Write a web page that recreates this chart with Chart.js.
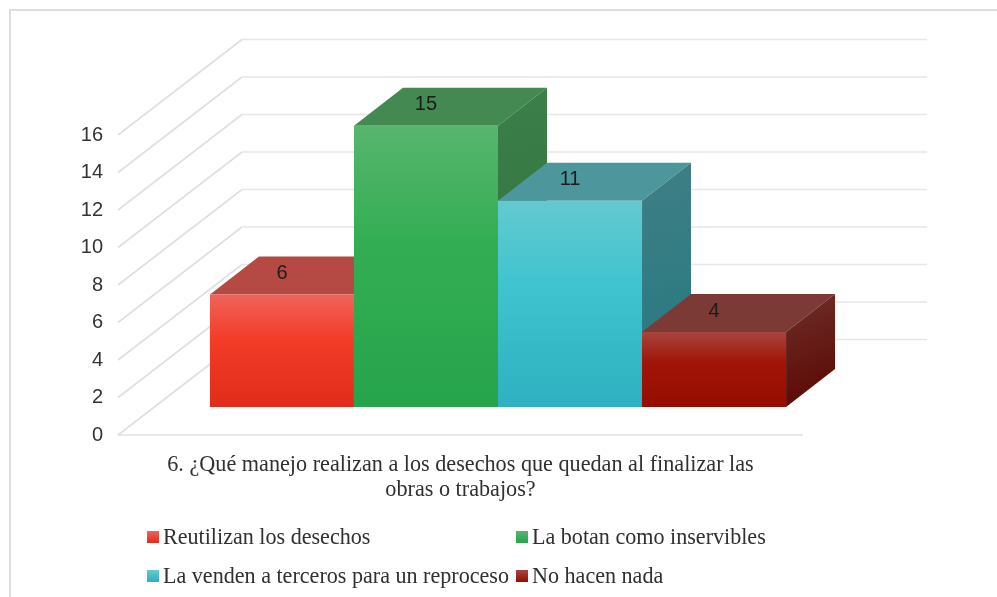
<!DOCTYPE html>
<html>
<head>
<meta charset="utf-8">
<script src="https://cdn.jsdelivr.net/npm/chart.js@4"></script>
<style>
  html, body { margin: 0; padding: 0; background: #fff; overflow: hidden; }
  #wrap { position: relative; width: 997px; height: 597px; filter: blur(.45px); }
  #frame { position: absolute; left: 9px; top: 9px; right: 0; bottom: 0; border-left: 2px solid #dedede; border-top: 2px solid #dedede; }
  canvas { position: absolute; left: 0; top: 0; }
  .leg { position: absolute; font: 22.1px "Liberation Serif", serif; color: #303030; white-space: nowrap; line-height: 22px; }
  .leg i { position: absolute; left: -16px; top: 5px; width: 12px; height: 12px; }
</style>
</head>
<body>
<div id="wrap">
  <div id="frame"></div>
  <canvas id="chart" width="997" height="597"></canvas>
  <div id="legend"></div>
</div>
<script>
// === data ===
const categories = [['6. ¿Qué manejo realizan a los desechos que quedan al finalizar las', 'obras o trabajos?']];
const seriesNames = ['Reutilizan los desechos', 'La botan como inservibles', 'La venden a terceros para un reproceso', 'No hacen nada'];
const seriesValues = [6, 15, 11, 4];

// === 3d look ===
const frontColors = [
  ['#f0635a', '#f23c28', '#e02c1a'],
  ['#58b56e', '#34ae54', '#26a44c'],
  ['#64c9d0', '#40c4cf', '#2eb0c0'],
  ['#a8443e', '#a01508', '#960d00']
];
const topColors = ['#b54a44', '#448852', '#4d969c', '#7c3a36'];
const sideColors = [['#8a2a22', '#7a1a12'], ['#3d7f4a', '#2a6f38'], ['#3f7f85', '#237880'], ['#6e2f2a', '#5a0500']];
const legendSpots = [[163, 526], [532, 526], [163, 565], [532, 565]];
const wallX = 124, wallY = -95.5;   // back wall offset
const shiftX = 37.5, shiftY = -28;  // bars stand part way into the floor
const depthX = 49, depthY = -38;    // bar depth

function poly(ctx, pts, fill) {
  ctx.beginPath();
  pts.forEach((p, i) => i ? ctx.lineTo(p[0], p[1]) : ctx.moveTo(p[0], p[1]));
  ctx.closePath();
  ctx.fillStyle = fill;
  ctx.fill();
}

const walls = {
  id: 'walls',
  beforeDatasetsDraw(chart) {
    const { ctx, scales: { y }, chartArea: a } = chart;
    ctx.save();
    ctx.lineWidth = 1.6;
    y.ticks.forEach(t => {
      const py = y.getPixelForValue(t.value);
      ctx.strokeStyle = '#dfdfdf';
      ctx.beginPath();
      ctx.moveTo(a.left, py);
      ctx.lineTo(a.left + wallX, py + wallY);
      ctx.stroke();
      ctx.strokeStyle = '#e6e6e6';
      ctx.beginPath();
      ctx.moveTo(a.left + wallX, py + wallY);
      ctx.lineTo(a.right + wallX, py + wallY);
      ctx.stroke();
    });
    const base = y.getPixelForValue(0);
    ctx.strokeStyle = '#e2e2e2';
    ctx.beginPath();
    ctx.moveTo(a.left, base);
    ctx.lineTo(a.right, base);
    ctx.stroke();

    // top and side faces, left to right so the later boxes cover the earlier ones
    ctx.translate(shiftX, shiftY);
    chart.data.datasets.forEach((ds, i) => {
      const b = chart.getDatasetMeta(i).data[0];
      const l = b.x - b.width / 2, r = b.x + b.width / 2;
      poly(ctx, [[l, b.y], [l + depthX, b.y + depthY], [r + depthX, b.y + depthY], [r, b.y]], topColors[i]);
      const g = ctx.createLinearGradient(r, b.y + depthY, r + depthX, b.base);
      g.addColorStop(0, sideColors[i][0]);
      g.addColorStop(1, sideColors[i][1]);
      poly(ctx, [[r, b.y], [r + depthX, b.y + depthY], [r + depthX, b.base + depthY], [r, b.base]], g);
    });
    ctx.restore();
    // the fronts are drawn by the library, moved onto the floor
    ctx.save();
    ctx.translate(shiftX, shiftY);
  },
  afterDatasetsDraw(chart) {
    const { ctx } = chart;
    ctx.restore();
    // value labels on the top faces
    ctx.save();
    ctx.font = '20px "Liberation Sans", sans-serif';
    ctx.fillStyle = '#1c1c1c';
    ctx.textAlign = 'center';
    ctx.textBaseline = 'middle';
    chart.data.datasets.forEach((ds, i) => {
      const b = chart.getDatasetMeta(i).data[0];
      ctx.fillText(ds.data[0], b.x + shiftX, b.y + shiftY - 21);
    });
    ctx.restore();
  }
};

function frontFill(i) {
  return (c) => {
    const { chart } = c;
    const y = chart.scales.y;
    if (!y || !chart.chartArea) return frontColors[i][1];
    const g = chart.ctx.createLinearGradient(0, y.getPixelForValue(seriesValues[i]), 0, y.getPixelForValue(0));
    g.addColorStop(0, frontColors[i][0]);
    g.addColorStop(0.4, frontColors[i][1]);
    g.addColorStop(1, frontColors[i][2]);
    return g;
  };
}

new Chart(document.getElementById('chart'), {
  type: 'bar',
  data: {
    labels: categories,
    datasets: seriesNames.map((name, i) => ({
      label: name,
      data: [seriesValues[i]],
      backgroundColor: frontFill(i),
      barPercentage: 1,
      categoryPercentage: 0.841,
      clip: false
    }))
  },
  plugins: [walls],
  options: {
    responsive: false,
    animation: false,
    layout: { padding: { left: 0, right: 194, top: 135, bottom: 0 } },
    plugins: { legend: { display: false }, tooltip: { enabled: false } },
    scales: {
      x: {
        grid: { display: false },
        border: { display: false },
        ticks: {
          color: '#303030',
          padding: 9,
          maxRotation: 0,
          font: { family: '"Liberation Serif", serif', size: 22.2, lineHeight: 1.15 }
        },
        afterFit(s) { s.height = 162; }
      },
      y: {
        min: 0,
        max: 16,
        grid: { display: false },
        border: { display: false },
        ticks: {
          stepSize: 2,
          color: '#333',
          padding: 7,
          font: { family: '"Liberation Sans", sans-serif', size: 20 }
        },
        afterFit(s) { s.width = 118; }
      }
    }
  }
});

// === legend (two fixed columns) ===
const host = document.getElementById('legend');
seriesNames.forEach((name, i) => {
  const el = document.createElement('div');
  el.className = 'leg';
  el.style.left = legendSpots[i][0] + 'px';
  el.style.top = legendSpots[i][1] + 'px';
  el.innerHTML = `<i style="background:linear-gradient(${frontColors[i][0]},${frontColors[i][2]})"></i>${name}`;
  host.appendChild(el);
});
</script>
</body>
</html>
